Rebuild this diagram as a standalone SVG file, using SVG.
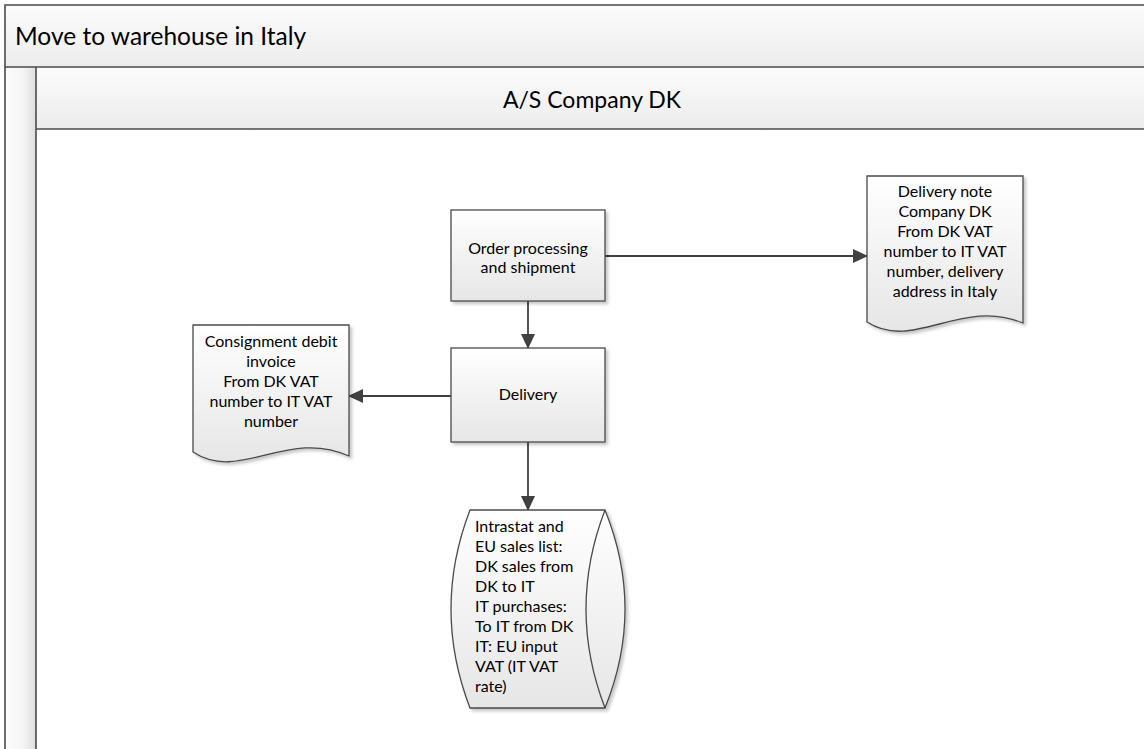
<svg xmlns="http://www.w3.org/2000/svg" width="1144" height="749" viewBox="0 0 1144 749">
  <style>
    .frame { fill: none; stroke: #4a4a4a; stroke-width: 1.6; }
    .shape { stroke: #4a4a4a; stroke-width: 1.3; fill: url(#shapeFill); filter: url(#shadow); }
    .inner { fill: none; stroke: #4a4a4a; stroke-width: 1.3; }
    .lbl { font-family: Lato, "Liberation Sans", sans-serif; font-size: 16px; fill: #000; }
    .mid { text-anchor: middle; }
    .head { font-family: Lato, "Liberation Sans", sans-serif; fill: #000; }
    .conn { stroke: #404040; stroke-width: 1.8; fill: none; marker-end: url(#arrow); }
  </style>
  <defs>
    <linearGradient id="shapeFill" x1="0" y1="0" x2="0" y2="1">
      <stop offset="0" stop-color="#ffffff"/>
      <stop offset="1" stop-color="#e6e6e6"/>
    </linearGradient>
    <linearGradient id="bandFill" x1="0" y1="0" x2="0" y2="1">
      <stop offset="0" stop-color="#fcfcfc"/>
      <stop offset="1" stop-color="#ececec"/>
    </linearGradient>
    <linearGradient id="stripFill" x1="0" y1="0" x2="1" y2="0">
      <stop offset="0" stop-color="#fdfdfd"/>
      <stop offset="0.6" stop-color="#f4f4f4"/>
      <stop offset="1" stop-color="#dedede"/>
    </linearGradient>
    <filter id="shadow" x="-10%" y="-10%" width="130%" height="130%">
      <feDropShadow dx="2.5" dy="2.5" stdDeviation="1.5" flood-color="#000" flood-opacity="0.22"/>
    </filter>
    <marker id="arrow" viewBox="0 0 15 14" refX="14" refY="7" markerWidth="15" markerHeight="14" markerUnits="userSpaceOnUse" orient="auto">
      <path d="M0,0 L15,7 L0,14 Z" fill="#404040"/>
    </marker>
  </defs>

  <rect width="1144" height="749" fill="#ffffff"/>

  <!-- pool and lane -->
  <g id="pool">
    <rect x="5" y="5" width="1150" height="62" fill="url(#bandFill)"/>
    <rect x="5" y="67" width="31" height="690" fill="url(#stripFill)"/>
    <rect x="36" y="67" width="1120" height="62" fill="url(#bandFill)"/>
    <path class="frame" d="M1160,5 H5 V760"/>
    <path class="frame" d="M5,67 H1160"/>
    <path class="frame" d="M36,67 V760"/>
    <path class="frame" d="M36,129 H1160" stroke-width="2"/>
    <text class="head" x="15" y="45" font-size="24.5">Move to warehouse in Italy</text>
    <text class="head mid" x="592" y="108" font-size="23">A/S Company DK</text>
  </g>

  <!-- connectors -->
  <g id="connectors">
    <line class="conn" x1="605" y1="256" x2="867" y2="256"/>
    <line class="conn" x1="528" y1="301" x2="528" y2="348"/>
    <line class="conn" x1="451" y1="396" x2="349" y2="396"/>
    <line class="conn" x1="528" y1="442" x2="528" y2="510"/>
  </g>

  <g id="order-processing">
    <rect class="shape" x="451" y="210" width="154" height="91"/>
    <text class="lbl mid" x="528" y="254">Order processing</text>
    <text class="lbl mid" x="528" y="273">and shipment</text>
  </g>

  <g id="delivery">
    <rect class="shape" x="451" y="348" width="154" height="94"/>
    <text class="lbl mid" x="528" y="400">Delivery</text>
  </g>

  <g id="delivery-note">
    <path class="shape" d="M867,176 H1023 V323 C961,297 914,352 867,322 Z"/>
    <text class="lbl mid" x="945" y="197">Delivery note</text>
    <text class="lbl mid" x="945" y="217">Company DK</text>
    <text class="lbl mid" x="945" y="237">From DK VAT</text>
    <text class="lbl mid" x="945" y="257">number to IT VAT</text>
    <text class="lbl mid" x="945" y="277">number, delivery</text>
    <text class="lbl mid" x="945" y="297">address in Italy</text>
  </g>

  <g id="consignment-invoice">
    <path class="shape" d="M193,325 H349 V456 C287,428 240,483 193,452 Z"/>
    <text class="lbl mid" x="271" y="347">Consignment debit</text>
    <text class="lbl mid" x="271" y="367">invoice</text>
    <text class="lbl mid" x="271" y="387">From DK VAT</text>
    <text class="lbl mid" x="271" y="407">number to IT VAT</text>
    <text class="lbl mid" x="271" y="427">number</text>
  </g>

  <g id="intrastat">
    <path class="shape" d="M470,510 H605 Q645,609 605,708 H470 Q432,609 470,510 Z"/>
    <path class="inner" d="M605,510 Q567,609 605,708"/>
    <text class="lbl" x="475" y="532">Intrastat and</text>
    <text class="lbl" x="475" y="552">EU sales list:</text>
    <text class="lbl" x="475" y="572">DK sales from</text>
    <text class="lbl" x="475" y="592">DK to IT</text>
    <text class="lbl" x="475" y="612">IT purchases:</text>
    <text class="lbl" x="475" y="632">To IT from DK</text>
    <text class="lbl" x="475" y="652">IT: EU input</text>
    <text class="lbl" x="475" y="672">VAT (IT VAT</text>
    <text class="lbl" x="475" y="692">rate)</text>
  </g>
</svg>
